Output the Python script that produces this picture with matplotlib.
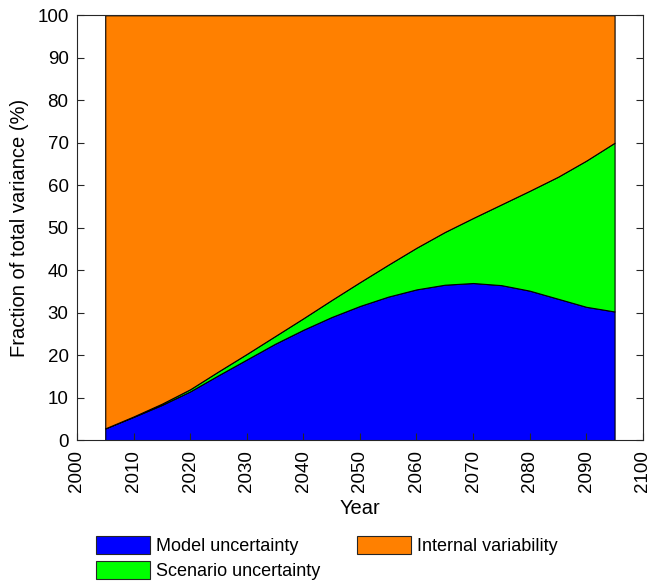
import numpy as np
import matplotlib.pyplot as plt
from matplotlib.patches import Patch

plt.rcParams["font.family"] = ["Liberation Sans", "DejaVu Sans"]

years = [2005, 2010, 2015, 2020, 2025, 2030, 2035, 2040, 2045, 2050,
         2055, 2060, 2065, 2070, 2075, 2080, 2085, 2090, 2095]
model = [2.8, 5.5, 8.3, 11.5, 15.3, 19.0, 22.7, 26.0, 29.0, 31.6,
         33.8, 35.5, 36.6, 37.0, 36.5, 35.2, 33.3, 31.4, 30.3]
scenario = [0.0, 0.1, 0.3, 0.5, 0.9, 1.3, 1.8, 2.7, 4.0, 5.6,
            7.5, 9.8, 12.4, 15.3, 19.0, 23.5, 28.7, 34.4, 39.7]
internal = [100 - m - s for m, s in zip(model, scenario)]

labels = ["Model uncertainty", "Scenario uncertainty", "Internal variability"]
colors = ["#0000ff", "#00ff00", "#ff8000"]

fig = plt.figure(figsize=(6.52, 5.87), dpi=100)
ax = fig.add_axes([0.118, 0.250, 0.868, 0.724])

ax.stackplot(years, model, scenario, internal, colors=colors,
             edgecolor="black", linewidth=0.8)

ax.set_xlim(2000, 2100)
ax.set_ylim(0, 100)
ax.set_xticks(np.arange(2000, 2101, 10))
ax.set_yticks(np.arange(0, 101, 10))
ax.tick_params(direction="in", length=5, labelsize=13.5, right=True,
               colors="#262626", labelcolor="black")
ax.tick_params(axis="x", pad=7)
ax.tick_params(axis="y", pad=6)
plt.setp(ax.get_xticklabels(), rotation=90)
for s in ax.spines.values():
    s.set_color("#262626")
ax.set_xlabel("Year", fontsize=14.5, labelpad=5)
ax.set_ylabel("Fraction of total variance (%)", fontsize=14.5, labelpad=6)

handles = [Patch(facecolor=c, edgecolor="#262626", linewidth=0.8) for c in colors]
fig.legend(handles, labels, ncol=2, loc="upper left",
           bbox_to_anchor=(0.147, 0.087), fontsize=13, frameon=False,
           handlelength=3.0, handleheight=1.15, handletextpad=0.35,
           labelspacing=0.35, columnspacing=2.0, borderaxespad=0,
           borderpad=0)

fig.savefig("out.png", dpi=100)
